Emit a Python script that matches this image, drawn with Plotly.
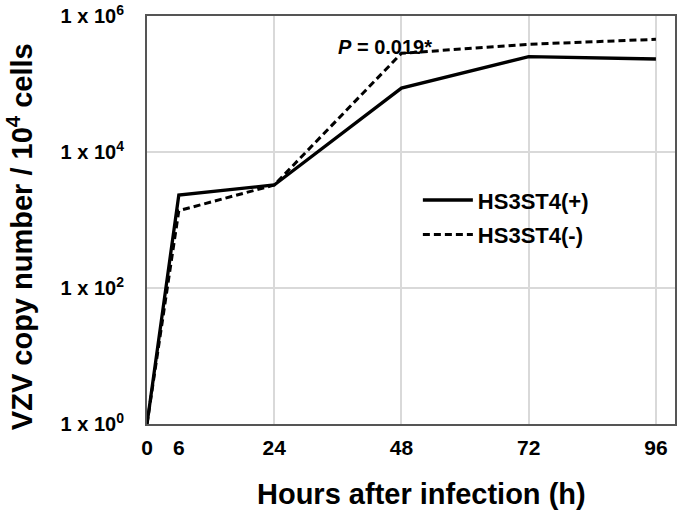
import plotly.graph_objects as go

hours = [0, 6, 24, 48, 72, 96]
hs_pos = [1, 2330, 3270, 87000, 252000, 233000]
hs_neg = [1, 1370, 3270, 283000, 384000, 454000]
x_ticks = [0, 6, 24, 48, 72, 96]
x_grid = [24, 48, 72, 96]
y_ticks = [1, 100, 10000, 1000000]
y_labels = ["1 x 10<sup>0</sup>", "1 x 10<sup>2</sup>", "1 x 10<sup>4</sup>", "1 x 10<sup>6</sup>"]

font_family = "Liberation Sans, Arial, sans-serif"
frame = "#555555"
grid = "#d9d9d9"

fig = go.Figure()
fig.add_trace(go.Scatter(x=hours, y=hs_pos, mode="lines", name="<b>HS3ST4(+)</b>",
                         legendgroup="a", line=dict(color="black", width=3.3)))
fig.add_trace(go.Scatter(x=hours, y=hs_neg, mode="lines", name="<b>HS3ST4(-)</b>",
                         legendgroup="b", line=dict(color="black", width=3, dash="7px,4px")))
# invisible trace for vertical gridlines on a secondary x axis
fig.add_trace(go.Scatter(x=[0], y=[1], xaxis="x2", mode="markers",
                         marker=dict(opacity=0), showlegend=False, hoverinfo="skip"))

fig.update_layout(
    width=681, height=517,
    margin=dict(l=147, r=6, t=16, b=93),
    paper_bgcolor="white", plot_bgcolor="white",
    font=dict(family=font_family, color="black"),
    showlegend=True,
    legend=dict(x=0.513, y=0.6, xanchor="left", yanchor="top", itemwidth=50,
                bgcolor="rgba(0,0,0,0)", font=dict(size=22, color="black"),
                tracegroupgap=3),
    xaxis=dict(range=[0, 99.6], tickvals=x_ticks, ticktext=[f"<b>{v}</b>" for v in x_ticks],
               showgrid=False, zeroline=False, showline=True, linecolor=frame,
               linewidth=2, mirror=True, tickfont=dict(size=21), automargin=False,
               ticks="", ticklabelstandoff=4),
    xaxis2=dict(range=[0, 99.6], tickvals=x_grid, showticklabels=False, overlaying="x",
                showgrid=True, gridcolor=grid, gridwidth=1.5, zeroline=False, showline=False,
                automargin=False),
    yaxis=dict(type="log", range=[0, 6], tickvals=y_ticks,
               ticktext=[f"<b>{t}</b>" for t in y_labels],
               showgrid=True, gridcolor=grid, gridwidth=1.5, zeroline=False,
               showline=True, linecolor=frame, linewidth=2, mirror=True,
               tickfont=dict(size=20), ticks="", ticklabelstandoff=17, automargin=False),
    annotations=[
        dict(text="<b><i>P</i> = 0.019*</b>", x=0.451, y=0.956, xref="paper", yref="paper",
             showarrow=False, font=dict(size=20, color="black")),
        dict(text="<b>Hours after infection (h)</b>", x=0.52, y=-0.1716, xref="paper", yref="paper",
             xanchor="center", yanchor="middle", showarrow=False, font=dict(size=29, color="black")),
        dict(text="<b>VZV copy number / 10<sup>4</sup> cells</b>", x=-0.2405, y=0.458,
             xref="paper", yref="paper", textangle=-90, xanchor="center", yanchor="middle",
             showarrow=False, font=dict(size=29, color="black")),
    ],
)

fig.write_html("out.html", config={"displayModeBar": False},
               post_script="document.body.style.margin='0';")
